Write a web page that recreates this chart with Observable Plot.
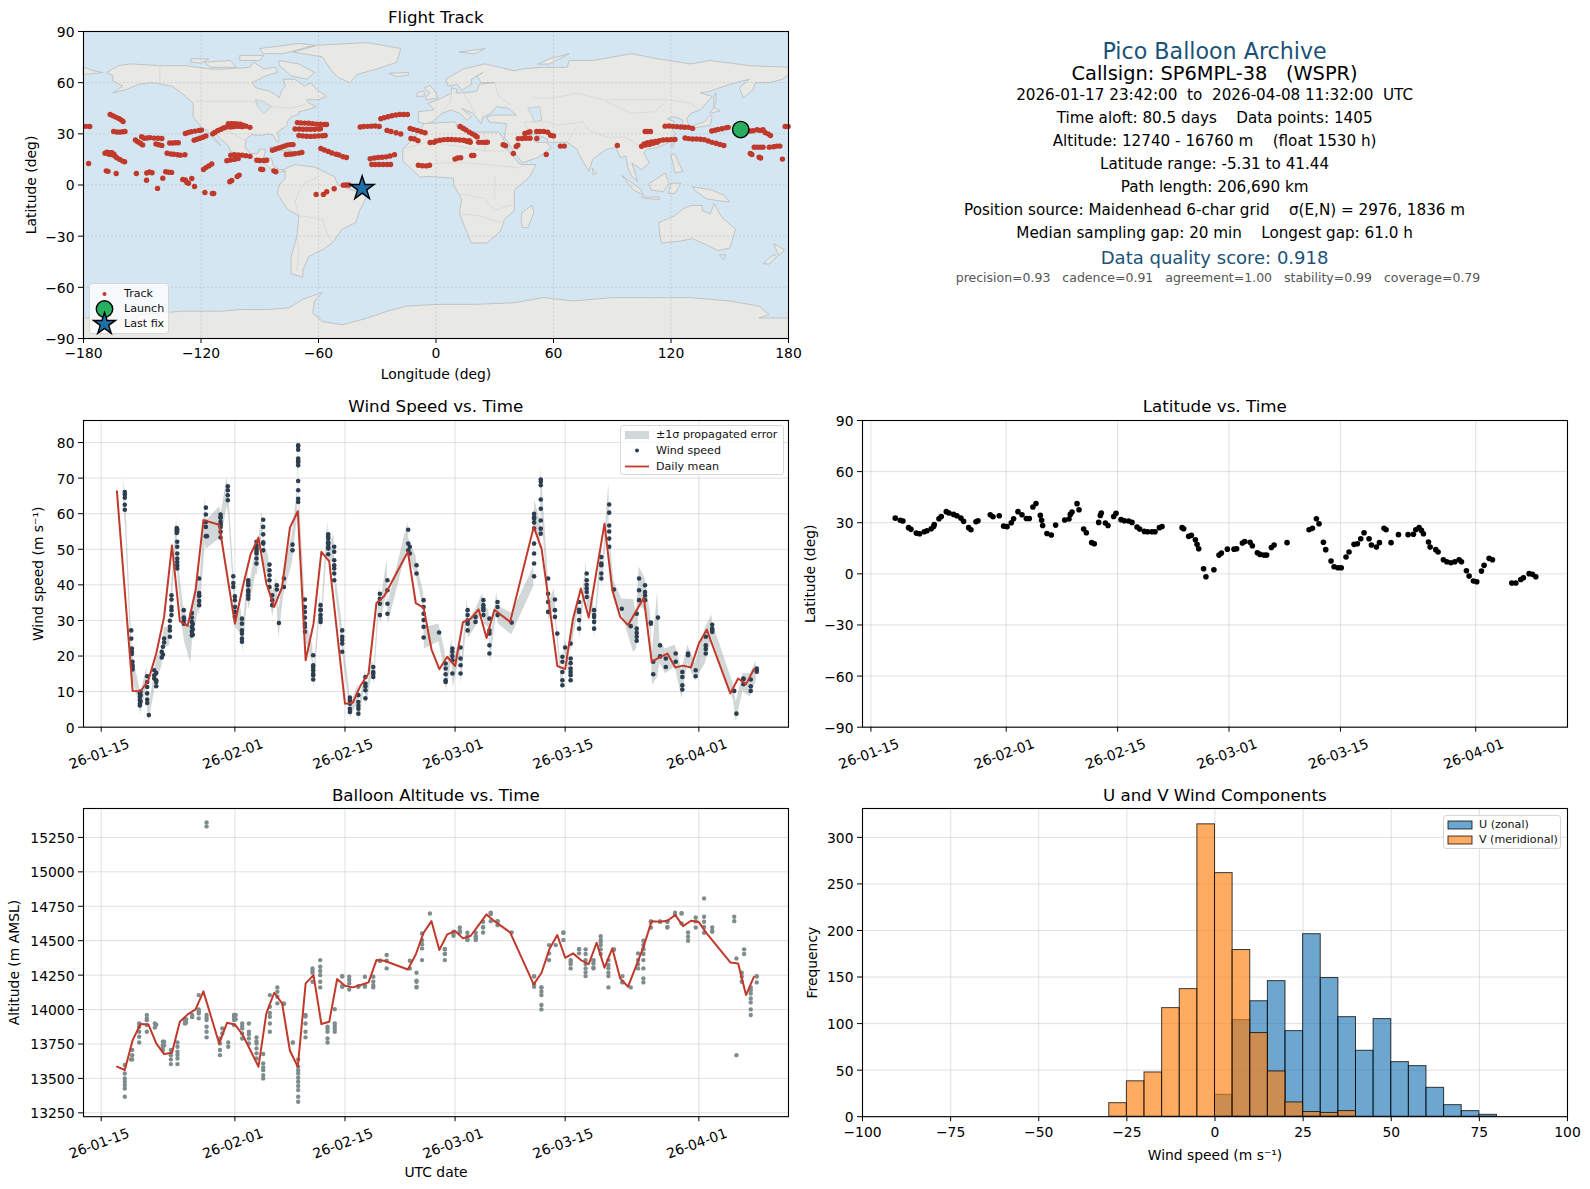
<!DOCTYPE html>
<html><head><meta charset="utf-8">
<script src="https://cdn.jsdelivr.net/npm/d3@7"></script>
<script src="https://cdn.jsdelivr.net/npm/@observablehq/plot@0.6"></script>
<style>
html,body{margin:0;padding:0;background:#fff;font-family:"DejaVu Sans",sans-serif;}
#page{position:relative;width:1590px;height:1189px;overflow:hidden;}
#page svg.plot,#page>svg{position:absolute;background:transparent;}
.t{position:absolute;white-space:pre;transform:translate(-50%,-50%);color:#000;line-height:1;}
.leg{position:absolute;background:rgba(255,255,255,.8);border:1px solid #d8d8d8;border-radius:3px;font-size:11.1px;box-sizing:border-box;color:#111;}
.leg div{position:absolute;white-space:pre;line-height:1;}
.leg svg{position:absolute;overflow:visible;}
</style></head><body><div id="page"></div>
<script>
// ---------- reference dates ----------
const tickDates=["2026-01-15","2026-02-01","2026-02-15","2026-03-01","2026-03-15","2026-04-01"];
const t0=Date.UTC(2026,0,15);
const day=d=>new Date(t0+d*864e5);

// ---------- flight track (lon, lat) ----------
const track=[[-166.4,41.3],[-165,40.6],[-163.5,39.8],[-162,39],[-160.8,38.2],[-159.8,37.2],[-178.8,34.4],[-176.8,34.3],[178.3,34.3],[179.8,34.3],
[-164.6,31.4],[-163,31.1],[-161.5,31],[-160,31.2],[-158.8,31.4],[-153.5,26.4],[-152.3,25.4],[-151,24.5],[-149.8,23.5],[-150.3,28.3],[-149,27.4],[-147.5,27.6],[-146,27.8],[-144,27.5],[-142,27.4],[-140,27.3],
[-143,24],[-141.5,23.6],[-140,23.2],[-136,24.6],[-134.5,24.6],[-133,24.8],[-131.6,24.8],[-128,30.2],[-126.5,30.8],[-125,31.2],[-123,31.6],[-121,32],[-119.8,32.2],[-123.5,26.3],[-122,26.8],[-120.5,27.4],[-119,28],[-117.5,28.8],
[-114,30],[-113,30.8],[-111.5,31.8],[-110,32.6],[-108.5,33.4],[-107,34],[-105.5,34.5],[-106,36],[-104.5,36],[-103,36],[-101.5,35.8],[-100,35.6],[-98.5,35],[-97,34.5],[-95,33.8],[-105,34],[-103.5,34.2],[-102,34.4],[-100.5,34.4],[-99,34.2],[-103,35],[-101,35],
[-137.3,18.6],[-135.5,18.2],[-134,18],[-132,17.7],[-130.5,17.5],[-128.2,17.7],[-169,18.6],[-168,19.2],[-166.5,19],[-165.5,17.8],[-164,17],[-167,18],[-165.5,19],[-163,16],[-161.5,15],[-160,14],[-159,13.6],[-164.5,18],[-177.4,12.6],
[-168.4,8.3],[-167.5,8],[-163.3,6.7],[-153,6.7],[-147.7,7],[-146.3,7.6],[-145,7.2],[-147.8,2.8],[-138,7.8],[-136.5,7.5],[-135,7.4],[-139.5,4],[-142.2,-2],[-129.3,3.2],[-128,3],[-127.2,1.5],[-126.4,1],[-124.7,3.8],[-123.3,-0.9],[-118,-4.4],[-114.2,-5],[-113.5,-5],
[-118.7,9.1],[-117.5,10.2],[-116,11.2],[-114.5,12.3],[-104.8,17.5],[-103,17.8],[-101,17.6],[-99,17.5],[-97,17.2],[-95,16.8],[-106.8,14.2],[-105,14.7],[-103,15],[-101,15.5],[-105.3,1.9],[-104.3,2.6],[-101.5,5],[-100.5,5.8],
[-91.5,14.5],[-90,14.4],[-88,14.4],[-86.5,14.5],[-89.5,9.2],[-88.5,9.1],[-82.8,8.3],[-81.8,7.8],[-83.5,20.4],[-82,21],[-80.5,21.6],[-79,22.2],[-77.5,22.8],[-76,23.4],[-74.5,23.7],[-73,23.7],[-76.5,17.9],[-75,18],[-73.5,18.2],[-72,18.4],[-70,18.7],[-68.5,19.1],
[-70.8,36.6],[-69,36.4],[-67,36.3],[-65,36.2],[-63,36],[-61,35.7],[-59,35.6],[-57,35.5],[-55.9,35.5],[-72,32.8],[-70,32.8],[-68,32.7],[-66,32.7],[-64,32.7],[-62,32.7],[-60,32.8],[-59,33],[-70,29],[-68,28.8],[-66,28.6],[-64,28.5],[-62,28.6],[-60,28.8],[-58,28.9],[-56.6,29],
[-58.8,21.4],[-57,20.5],[-55,19.7],[-53.2,18.8],[-51,18],[-49.5,17.6],[-47.5,16.6],[-45.7,16.1],[-61.2,-5.5],[-57.5,-5.5],[-55.8,-4],[-52,-2.2],[-47.3,-0.1],[-46,0],[-44.5,0],
[-38.7,34],[-37,34.3],[-35,34.4],[-33,34.5],[-31,34.6],[-29,34.3],[-28.2,38.8],[-26.5,39.5],[-24.5,40],[-22.5,40.6],[-20.5,41],[-18.5,41.3],[-16.5,41.3],[-14.6,41.3],[-25,32],[-23,31.4],[-20.4,30.6],[-18,29.9],
[-33.6,15.4],[-31.5,15.8],[-29.5,16.1],[-27.5,16.3],[-25.5,16.5],[-23.5,17],[-21.2,17.8],[-32.8,12],[-31,12],[-29,12],[-27,12],[-25,12],[-23.2,12],
[-13.2,33.1],[-11.5,32.6],[-9.5,32],[-7.5,31.2],[-5.6,30.6],[-12.8,27.3],[-11,27],[-9.2,26],[-9,11.6],[-7,11.3],[-5,11.2],[-3.3,11.6],
[12.3,34.3],[13.8,33.3],[15.3,32.3],[17,31],[18.5,30],[20,29],[21,28.2],[-3,24.9],[-1,25],[0,25.8],[2,26.2],[4,26.6],[6,26.7],[8,26.7],[10,26.6],[12,26.4],[14,26.2],[16,25.5],[17.5,25.1],[15,26],[17,26],
[21.8,25],[23.5,25],[25,25],[26.2,25.1],[34.3,23.6],[35.5,23],[41,22.6],[41.8,23.4],[39.5,18.5],[56.3,17.9],[9.7,15.2],[11,15.8],[12.6,16],[18.2,17.3],[19.3,17.3],
[42,27.2],[44,27.3],[46,27.4],[48,27.4],[51.5,27.3],[45.4,30.2],[47,30.8],[48,31.2],[51.4,31.4],[53,31.4],[55,31.4],[57,31],[58.5,29.2],[60,28.8],[63.5,22.8],[65.5,22.8],
[92.6,23.2],[106.8,31.4],[108,31.4],[109.5,31.4],[105,22.7],[106.3,24],[108,24.8],[110,25.2],[112,25.6],[114,26],[116,26.4],[118,26.5],[120,26.6],[122,26.7],[107,23.4],[109,23.8],[111,24.5],[113,25],
[117,34.5],[119,34.6],[121,34.4],[123,34.2],[125,34],[127,33.9],[129,33.8],[131,33.2],[127.2,27.6],[129,27.2],[131,27],[133,27],[135,26.8],[137,26.6],[139,25.8],[141,25],[143,24.5],[145,23.8],[147,23.2],
[140.8,31.7],[142.5,32.1],[144,32.5],[146,33],[148,33.5],[149.2,33.8],[160.5,31.7],[162,31.8],[164,32.4],[165.5,32],[167,32.4],[168,30.8],[169.5,30],[170.8,29],
[162.5,22.2],[164,22.2],[165.5,22.2],[167,22.2],[170.2,22.2],[172.4,22.4],[174,22.8],[175.6,22.8],[160.5,18.5],[161.3,17.9],[165,16.3],[165.8,15.8],[176.9,15.2]];
const launch=[[155.6,32.5]];
const lastFix=[[-37.7,-2]];

// ---------- land outlines (lon, lat) ----------
const land={
NAmerica:[[-168,66],[-162,70],[-156,71],[-141,70],[-128,70],[-115,68],[-108,68],[-95,69],[-93,72],[-88,68],[-82,69],[-81,66],[-87,64],[-94,60],[-92,57],[-85,55],[-82,53],[-80,51],[-79,55],[-77,58],[-78,62],[-72,62],[-67,58],[-64,60],[-61,56],[-56,52],[-60,50],[-66,50],[-65,48],[-61,46],[-66,44],[-70,43],[-70,41.5],[-74,40],[-76,37],[-76,35],[-81,31],[-80,26],[-81,25],[-83,29],[-85,30],[-90,29],[-94,29.5],[-97,27],[-97.5,22],[-95,18.5],[-91,18.5],[-90,21],[-87,21],[-88,16],[-84,15.5],[-83,11],[-80,9],[-78,9],[-77,8],[-80,7.5],[-85,10],[-88,13],[-94,16],[-100,17],[-105,20],[-106,23],[-110,27],[-113,31],[-115,31],[-112,26],[-110,23],[-113,26],[-117,32],[-120,34],[-124,40],[-124,48],[-130,54],[-135,58],[-145,60],[-152,59],[-158,56],[-165,54],[-160,58],[-165,61],[-165,64]],
SAmerica:[[-78,9],[-72,12],[-62,10.5],[-52,5],[-50,0],[-44,-2.5],[-35,-6],[-39,-15],[-41,-22],[-48,-26],[-53,-34],[-58,-38],[-65,-42],[-68,-50],[-68,-54],[-74,-52],[-74,-42],[-71,-30],[-70,-18],[-76,-14],[-81,-5],[-80,0],[-77,4],[-77,8]],
Africa:[[-6,36],[10,37],[11,33],[20,31],[32,31],[34,28],[37,20],[43,12],[51,12],[48,5],[40,-3],[40,-15],[35,-20],[33,-27],[26,-34],[18,-34],[12,-17],[13,-8],[9,0],[9,4],[-4,5],[-8,4.5],[-17,14],[-17,21],[-10,29]],
Eurasia:[[-9,37],[-9,43],[-1,44],[-4,48],[3,51],[8,54],[8,57],[11,56],[10,54],[14,54],[21,55],[22,59],[30,60],[23,60],[21,64],[24,66],[18,62],[18,59],[13,55.5],[11,59],[6,58],[5,62],[14,68],[25,71],[40,67],[44,68],[54,69],[67,69],[68,73],[80,73],[100,77],[113,74],[130,71],[140,73],[160,70],[180,69],[180,65],[177,62],[170,60],[163,60],[162,56],[157,51],[155,57],[160,62],[150,59],[140,55],[135,54],[141,52],[135,44],[130,42],[128,39],[129,35],[126,35],[126,38],[122,40],[118,39],[122,37],[120,34],[122,30],[119,25],[113,22],[108,21],[106,19],[109,13],[105,9],[100,13],[103,2],[100,5],[98,10],[97,17],[94,16],[92,22],[87,21],[80,15],[78,8],[73,18],[72,21],[67,25],[57,25],[57,27],[50,30],[48,29],[51,25],[56,25],[59,22],[52,16],[44,13],[39,21],[35,28],[36,36],[27,37],[26,40],[29,41],[41,41],[37,45],[31,46],[28,42],[24,40],[23,36],[19,42],[13,45],[18,40],[16,38],[12,42],[8,44],[3,42],[0,39],[-2,37],[-5,36]],
Antarctica:[[-180,-78],[-170,-78],[-155,-79],[-150,-76],[-130,-74],[-110,-74],[-100,-73],[-85,-73],[-75,-72],[-68,-67],[-58,-63],[-62,-68],[-63,-75],[-58,-80],[-48,-82],[-35,-78],[-25,-74],[-15,-71],[0,-70],[20,-70],[40,-69],[55,-66],[70,-68],[90,-66],[110,-66],[130,-66],[150,-68],[165,-71],[170,-76],[165,-78],[180,-78],[180,-90],[-180,-90]],
Greenland:[[-73,78],[-60,82],[-35,83.5],[-18,80],[-20,72],[-30,68],[-40,65],[-44,60],[-50,63],[-54,68],[-58,75]],
Baffin:[[-80,73],[-70,71],[-62,66],[-66,62],[-74,64],[-80,70]],
Victoria:[[-118,72],[-105,73],[-102,69],[-115,69]],
Ellesmere:[[-90,80],[-70,83],[-62,82],[-78,77],[-88,77]],
Banks:[[-125,74],[-116,74],[-120,71.5],[-125,72]],
Devon:[[-100,76],[-88,76],[-90,73],[-100,73]],
Iceland:[[-24,65.5],[-14,66],[-14,64.5],[-20,63.5]],
Britain:[[-5,50],[1,51],[0,54],[-3,58.5],[-6,57],[-3,54],[-5,52]],
Ireland:[[-10,52],[-6,52],[-6,55],[-9,54.5]],
Madagascar:[[44,-16],[49,-12],[50,-16],[47,-25],[44,-25],[43.5,-20]],
Australia:[[114,-22],[122,-18],[126,-14],[130,-12],[136,-12],[136,-15],[140,-17],[142,-11],[146,-19],[153,-26],[150,-37],[144,-38.5],[138,-35],[131,-31.5],[124,-33],[115,-34],[114,-26]],
Tasmania:[[145,-41],[148,-41],[147,-43.5]],
NZNorth:[[172.7,-34.5],[178,-38],[175,-41.5],[174,-39]],
NZSouth:[[173,-41],[174,-42],[170,-46.5],[167,-46],[171,-42]],
NewGuinea:[[131,-1],[141,-3],[147,-6],[150,-10],[143,-9],[138,-8],[133,-4]],
Borneo:[[109,1],[117,7],[119,1],[116,-4],[110,-3]],
Sumatra:[[95,5.5],[104,-2],[106,-6],[101,-3]],
Java:[[105,-7],[114,-7],[114,-8.5],[106,-7.8]],
Sulawesi:[[120,1],[125,1],[122,-5],[119,-5]],
Luzon:[[120,18],[122,18],[124,13],[126,8],[122,7],[121,13]],
Honshu:[[130,33],[135,34],[140,35],[141,40],[140,41],[137,37],[132,35]],
Hokkaido:[[140,42],[145,43.5],[142,45.5]],
Sakhalin:[[142,46],[143,49],[143,54],[142,52]],
Taiwan:[[120,23],[121.5,25],[121,22]],
SriLanka:[[80,9.5],[82,7],[80.5,6]],
Cuba:[[-85,22],[-80,23],[-74,20],[-78,20]],
Hispaniola:[[-74,19],[-69,19.5],[-68.5,18.5],[-74,18]],
Svalbard:[[12,78],[25,80],[20,77]],
NovayaZemlya:[[52,71],[58,74],[68,77],[58,71]],
Chukotka:[[-180,69],[-175,67],[-170,66],[-178,65],[-180,65]]
};
const seas={Caspian:[[47,45],[53,46],[54,38],[50,37],[49,41]],Hudsonia:[[-92,50],[-88,49],[-84,46],[-88,42],[-91,46]]};
const borders=[[[-123,49],[-95,49],[-83,46],[-75,45],[-67,47]],[[-141,70],[-141,60]],[[-117,32.5],[-106,31.5],[-97,26]],[[-70,-18],[-58,-20],[-55,-30],[-53,-34]],[[-70,-18],[-72,-10],[-70,-4],[-67,1],[-60,5]],[[-71,-30],[-70,-40],[-71,-50]],[[-17,21],[-5,25],[10,23],[25,20],[37,20]],[[12,-5],[25,-8],[30,-15],[40,-11]],[[-10,12],[5,13],[15,13],[25,12],[35,11],[43,10]],[[25,20],[25,31]],[[12,-17],[22,-18],[33,-22]],[[30,5],[30,-8]],[[8,54],[7,48],[3,43]],[[14,54],[17,48],[20,42]],[[30,60],[32,52],[38,47]],[[50,51],[60,51],[72,54],[85,50],[100,50],[118,50],[130,48],[135,44]],[[48,30],[45,37],[57,37],[62,35],[75,37],[78,32],[88,28],[97,28],[105,22]],[[67,25],[72,34]],[[87,49],[100,42],[112,43],[118,50]]];

// ---------- wind speed: [day after Jan 15, values] ----------
const windStacks=[[3,[66.1,65.4,64.5,62.5,61.1]],[3.82,[27.2,24.9]],[3.9,[22.1,21.2,20.6]],[3.98,[18.4,17.4,16.8,16.2]],[4.92,[9.5,8.5,7.6,6.6,6.1]],[5,[10,9,7.2]],[5.85,[14.3,12.7,11.3,9.5,7.8,6.8]],[6.06,[3.4]],[6.74,[16,14.6,13.7]],[7,[12.7,11.5,15.2,13.2]],[7.7,[19.6,21.2]],[7.85,[22.6,20.4]],[8,[23.8,24.9]],[8.73,[25.4,27.2,28.2,29.9]],[8.94,[31.5,32.9,33.8,35.9,37.1]],[9.6,[56,55.3,54.6]],[9.67,[52.1,50.7,48.8,47.4,46.4,45.5,44.6,55.6,54.9]],[10.5,[32.9,30.8,30.1,29.1]],[11.53,[32.1,30.8,29.6,28.2,26.8,25.8]],[11.65,[29,27.5,26]],[12.46,[41.8,37.7,36.9,35.5,34.3,37]],[13.31,[61.7,59.8,57.7,56.3,53.7]],[13.45,[53.7]],
[15.18,[59.8,58.9,57.7,56.3,54.9,53.3,59,57]],[16.1,[67.7,66.6,65.2,63.8]],[16.8,[42.4,40.5,39.4]],[17.0,[36.8,35.7,33.8,32.4,31]],[17.9,[30.5,29.1,27.2,26.3,24.9,24]],[18.7,[41.3,39.9,38.5,37.1,36.1,40.5,38]],[19.75,[52.1,50.2,48.8,47.4,46,51,49.5]],[20.6,[58.3,56.3,54.2,51.6,49.7,52]],[21.4,[45.7,44.1,42.7,41.3,39.4]],[21.75,[37.1,35.7,34.3]],[22.34,[39.9,38.7]],[22.6,[29.3]],[23.23,[41.8,39.4]],[24.33,[51.3,49.7]],[25.05,[79,78,75.5,74.5,73.6,69.2,66.6,64.2,63.3,79.2,74.9]],[25.9,[35.9,33.8,32.4,30.8,29.1,28.2,26.8]],[26.96,[20.2,17.4,16,14.6,13.4,16.8,15]],[27.9,[34.3,32.9,31.5,29.6,33,30.5]],[28.87,[54.2,53,51.6,50.2,48.6,53.5,52,50.7]],[29.63,[50.7,49.3,46.9,44.6,43.2,41.3,45.5]],[30.65,[27.2,25.4,23.5,21.2,24.5]],[31.62,[8.3,6.6,5.2,4.3,7.5]],[32.7,[9,7.1,5.2,3.8,6]],[33.6,[14.1,12.3,10.4,8.1,11.5]],[34.6,[16.9,15.5,14.1,15]],[35.44,[37.5,36.1,34.7,31.5]],[36.4,[41.3,38.5,34.7,31.9]],[39.04,[55.5,51.6,49.7]],[39.25,[50.7,48.8]],[40.1,[45.5,43.2]],[41,[35.7,33.8,31.9,30.1,28.2,25.2]],
[42.97,[26.6]],[43.8,[17.9,16.5,14.9,12.7,13.2]],[44.66,[22.1,21.2,18.8,15.1,20]],[45.7,[22.4,19.3,17.4,15.1]],[46.6,[32.9,31.5,29.1,27.2,30]],[47.6,[31,29.6]],[48.6,[35.7,34.3,32.9,31.5,33.5]],[49.37,[30.5,27.2,26.3,23,20.7]],[50.4,[35.2,33.8,31.5]],[52.2,[29.4]],[55.05,[60,58.6,55.8,51.6,48.8,46,42.4,59,57.5]],[55.9,[69.6,68,64,61.4,58.1,55.8,54.4,69]],[56.83,[41.8,37.5,35.2,32.4]],[57.7,[35.9,32.9,31]],[58,[26.3]],[58.65,[19.8,18.4,15.5,13.2,11.8]],[59,[22.4]],[59.7,[23.5,19.3,16.5,14.6,13.2,18,15.5]],[60.77,[35.2,32.4,30.1,27.7,33]],[61.74,[43.2,41.3,39,36.6,40,38]],[62.68,[32.9,31.5,29.6,27.7,31]],[63.6,[47.8,45.5,43.2,41.8,46]],[64.6,[62.6,60.3,56.7,53,50.7,55]],[65.2,[38.7]],[66.2,[33.3]],[67.34,[28.4]],[68.1,[31.9,27.7,25.4,24.3,26.5]],[68.4,[41.8,38.5,35.7]],[69.16,[39.9,38,35.7,37]],[69.9,[29.1,29.4]],[70.2,[18.4,14.9]],[70.8,[30.8]],[71.07,[23,19.9]],[71.8,[19.3,16.9]],[73.06,[20.7,18.4]],[73.9,[14.1,11.8,10.6,15.5]],[74.63,[20.2,20.7]],[75.6,[16,14.3]],[76.88,[25.4,23,20.7,22]],[77.7,[28.8,27.7,26.8,27.3]],[80.5,[10.2]],[80.78,[3.8]],[81.67,[13.7,12.1,13.5]],[82.6,[13.4,10.2,11.5]],[83.36,[16,16.5,15.6]]];

// ---------- propagated error band: [day, low, high] ----------
const windBand=[[2.9,62,70],[3.1,56,65],[3.75,23,31],[3.95,14,21],[4.8,7,12],[5,3.5,9],[5.8,11,17],[5.9,5,11],[6.05,1.8,5.5],[6.7,9,14],[7,13,19],[7.7,17,22],[8,22,28],[8.7,23,28],[8.95,33,40],[9.6,52,59],[9.75,42,48],[10.4,27,35],[10.6,24,33],[11.4,18,28],[11.6,24,34],[12.4,33,44],[12.5,31,39],[13.25,51.5,65],[13.35,50,58],[15.1,53,62],[15.25,52,60],[16,62,70],[16.2,60,67],[16.8,39,45],[17.1,28,35],[17.85,26,33],[18,21,27],[18.65,36,44],[18.8,33,39],[19.65,43,50],[19.85,43,49],[20.5,55,61],[20.7,46,52],[21.3,42,48],[21.5,36,42],[21.8,31,38],[22.3,36,42],[22.6,25,33],[23.2,37,44],[24.3,46,54],[24.95,59,67],[25.05,75,82.5],[25.15,60,67],[25.85,33,39],[26.05,24,30],[26.9,18,23],[27.05,11,16],[27.85,32,37],[28,27,32],[28.8,51,58],[28.95,46,51],[29.6,47,54],[29.75,39,44],[30.6,24,30],[30.8,19,24],[31.55,6,11],[31.7,2.5,6],[32.65,7,12],[32.8,1.5,5.5],[33.55,12,16],[33.7,6,10],[34.5,15,19],[34.7,12,16],[35.4,34,40],[35.5,29,34],[36.35,38,47],[36.5,29,35],[39,51,57.5],[39.1,47,53],[40.05,43,48],[40.2,41,45],[41,33,38],[41.1,22,28],
[42.95,24,29],[43.75,15,21],[43.9,10,15],[44.6,19,25],[44.75,11,18],[45.65,20,25],[45.8,12,18],[46.55,30,36],[46.7,25,30],[47.6,28,33],[48.5,33,37.5],[48.7,29,34],[49.3,28,33],[49.5,18,23],[50.3,33,38],[50.5,29,34],[52.2,26,32],[55,39.5,45],[55.1,56,64],[55.85,50,58],[55.95,62,73],[56.8,37,44],[56.9,30,35],[57.65,33,39],[57.8,29,33],[58,24,28],[58.6,10.4,14],[59,21,25],[59.65,12,16],[59.7,21,26],[60.7,33,37],[60.85,25,30],[61.7,41,46.4],[61.8,34,39],[62.6,31,35],[62.75,25,30],[63.55,45,50],[63.7,39,44],[64.55,60,68.3],[64.7,47,53],[65.2,36,41],[66.2,32,36],[67.7,21,35.9],[68.1,22,32],[68.4,34,45],[69.15,33,42],[69.85,27,32],[70.1,11.8,21],[70.75,14,38],[71.05,18,24],[71.75,15,22],[73,17,23],[73.85,8,16],[74.6,18,23],[75.55,13,18],[76.85,18,28],[77.65,25,31.5],[77.8,24,29],[80.4,7.5,12],[80.75,1.5,7],[81.6,10,15],[82.55,8.5,15],[83.3,13,18.6]];

// ---------- daily means ----------
const meanDays=[2,4,5,6,7,8,9,10,11,12,13,15,17,18,19,20,21,22,23,24,25,26,27,28,29,31,32,33,34,35,36,39,40,41,42,43,44,45,46,47,48,49,50,52,55,56,57,58,59,60,61,62,64,65,66,67,69,70,71,72,73,74,75,76,77,80,81,82,83];
const meanWind=[66.3,10.2,10.1,13.2,20.7,31,51.1,29.8,28.5,38.5,58.2,56.9,29.1,39.4,48.6,53.3,40.4,33.8,39.4,56.1,60.7,18.8,29.1,49.3,46.6,6.6,6.9,11.8,15.1,34.9,36.9,49.3,34.9,33.6,21.9,16.3,19.8,17.2,29.5,30.5,33.1,25.1,33,29.6,56.3,50.2,34,17.2,16.3,30.5,39,30.8,57.2,38.5,31,28.7,36.4,18.4,19.6,20.7,16.8,17.3,16.8,23.5,27.4,9.5,13.7,12.1,16.3];
const altDays=[2,3,4,5,6,7,8,9,10,11,12,13,15,16,17,18,19,20,21,22,23,24,25,26,27,28,29,30,31,32,33,34,35,36,39,40,41,42,43,44,45,46,47,48,49,50,52,55,56,57,58,59,60,61,62,63,64,65,66,67,69,70,71,72,73,74,75,76,77,80,81,82,83];
const meanAlt=[13585,13561,13778,13895,13892,13754,13677,13686,13911,13965,14001,14132,13754,13904,13892,13815,13701,13585,13972,14122,14045,13701,13585,14190,14250,13895,13911,14221,14173,14161,14178,14197,14359,14354,14291,14400,14558,14642,14432,14546,14570,14517,14536,14613,14691,14642,14560,14183,14267,14439,14541,14376,14408,14359,14330,14485,14304,14444,14226,14166,14461,14642,14638,14645,14686,14606,14645,14635,14553,14342,14335,14105,14238];

// ---------- altitude: [day, values] ----------
const altStacks=[[3,[13597,13536,13476,13452,13427,13367,13500]],[3.8,[13638]],[3.94,[13638,13669,13706]],[4.83,[13761,13803,13839,13875,13899]],[5.8,[13960,13923,13887,13839,13935]],[6.82,[13870,13899]],[7,[13890]],[7.84,[13766,13742,13706,13730]],[8.0,[13766,13740]],[8.86,[13706,13669,13638,13604]],[9.7,[13761,13730,13694,13645,13604,13670]],[10.64,[13924,13899]],[10.8,[13930,13905]],[11.57,[13960,13945]],[12.4,[14105,14001,13972,13936,13985]],[13.4,[15359,15330,13960,13924,13875,13839,13798,13940]],[15.1,[13790,13754,13706,13669]],[15.4,[13863,13827]],[16.15,[13761,13730]],[16.9,[13960,13924,13887,13960,13945]],[17.1,[13960,13930]],[17.93,[13899,13863,13827,13790,13880]],[18.78,[13899,13839,13790,13754,13820]],[19.75,[13798,13754,13718,13682,13645,13770]],[20.6,[13677,13609,13560,13524,13500,13580]],[21.45,[14105,14020,13948,13899,13839,13975]],[22.4,[14161,14129,14093,14045]],[23.23,[14040,14045]],[24.37,[13761,13760]],[25.05,[13638,13585,13536,13476,13415,13367,13330,13560,13505,13445]],[25.98,[13960,13899,13839,13798,13950]],[26.87,[14299,14267,14202,14280]],[27.85,[14359,14311,14250,14202,14161,14280]],[28.78,[13875,13839,13790,13761,13860]],[29.7,[14003,13899,13839,13880,13860]],[30.65,[14243,14166,14240,14170]],[31.54,[14238,14190,14146,14215]],[32.7,[14166,14170]],[33.53,[14238,14166,14175]],[34.6,[14238,14202,14161,14175]],[35.44,[14354,14355]],[36.3,[14396,14354,14299]],[39.25,[14354,14299]],[40.1,[14267,14202,14161,14210,14165]],[40.8,[14553,14504,14444,14359,14475]],[41.8,[14698]],
[43.7,[14437,14403,14359,14440,14405]],[44.8,[14565,14536,14550]],[45.6,[14596,14560,14570]],[46.57,[14558,14505,14530,14510]],[47.63,[14558,14529,14505,14515,14530]],[48.56,[14638,14596,14560,14600]],[49.54,[14703,14693,14642,14700]],[50.4,[14642,14613,14640]],[52.2,[14560]],[55.05,[14243,14166,14240,14180]],[55.98,[14161,14105,14033,14001,14130,14160]],[56.95,[14468,14408,14359]],[57.8,[14468]],[58.78,[14560,14505,14558]],[59.7,[14359,14330,14299,14345]],[60.77,[14437,14408,14440]],[61.6,[14437,14403,14359,14299,14243,14330,14270]],[62.6,[14359,14335,14299,14305,14355]],[63.52,[14533,14505,14468,14437,14403,14490]],[64.5,[14359,14323,14267,14243,14161,14300]],[65.2,[14437,14435]],[66.28,[14243,14197,14200]],[67.34,[14161]],[68.27,[14408,14359,14299,14330]],[68.95,[14500,14468,14437,14403,14359,14299,14226,14197,14440]],[69.9,[14638,14596,14640]],[71.07,[14638,14640]],[72,[14638,14596,14640,14600]],[72.97,[14703,14690]],[73.8,[14698,14626,14700]],[74.63,[14560,14529,14500]],[75.6,[14669,14596,14640]],[76.66,[14807,14674,14638,14558,14600]],[77.7,[14596,14565,14570]],[80.5,[14674,14642]],[80.78,[14371,13669]],[81.46,[14267,14202,14240]],[81.76,[14437,14403]],[82.6,[14161,14117,14081,14052,14001,13960,14140]],[83.36,[14243,14197,14240]]];

// ---------- latitude vs time: [day, latitude] ----------
const latPoints=[[3.06,32.7],[3.69,31.4],[4.02,31],[4.73,27.1],[5.03,26.1],[5.7,23.9],[6.12,23.5],[6.7,24.7],[7.04,25.3],[7.58,26.5],[7.88,27.8],[7.96,29],[8.55,32.3],[8.84,33.7],[9.47,36.5],[9.81,35.7],[10.39,34.9],[10.81,34.1],[11.31,32.7],[11.65,30.8],[12.28,27.1],[12.57,25.9],[13.2,30.6],[13.45,31.2],[15,34.7],[15.34,33.5],[16.13,34.1],[16.68,28],[17.1,27.7],[17.64,30],[17.93,32.3],[18.48,36.5],[18.98,34.7],[19.53,32.5],[19.9,32.5],[20.36,39.2],[20.74,41.3],[21.29,34.3],[21.45,31.4],[21.58,28.4],[22.12,23.7],[22.67,22.8],[23.21,28.6],[24.35,31.6],[24.89,32.2],[25.06,34.9],[25.27,36.3],[25.9,41.2],[26.15,37.6],[26.73,26.3],[27.07,24.1],[27.74,18.3],[28.07,17.7],[28.62,30.2],[28.83,34.3],[28.95,35.7],[29.46,29.8],[29.79,28.4],[30.5,33.7],[30.8,35.5],[31.43,31.8],[31.85,31.2],[32.39,31],[32.81,30.2],[33.44,27.5],[33.77,26.3],[34.36,24.9],[34.78,24.7],[35.32,24.7],[35.7,24.7],[36.25,27.1],[36.58,27.8],[39.1,27.1],[39.3,26.5],[39.93,22],[40.27,22.6],[40.77,20],[40.98,17.3],[41.19,14.7],[41.8,3],[42.1,-1.7],[43.1,2.4],
[43.74,11],[44.04,12.2],[44.79,14.5],[45.63,14.5],[45.96,14.7],[46.68,18.1],[46.97,19],[47.64,18.5],[47.93,16.5],[48.56,12.4],[48.9,11.4],[49.4,11],[49.73,11],[50.32,15.5],[50.66,16.9],[52.29,18.3],[55.06,25.9],[55.48,26.7],[55.98,32.3],[56.31,29.4],[56.86,18.5],[57.15,14.2],[57.82,7.5],[58.2,4.2],[58.7,3.6],[59.1,3.6],[59.7,9.9],[60.08,12.8],[60.71,17.3],[61.13,17.7],[61.55,20.6],[61.97,24.1],[62.6,20.6],[62.89,16.9],[63.52,15.7],[63.9,18.3],[64.48,26.7],[64.73,25.9],[65.36,18.3],[66.29,23],[67.5,23],[68.17,23.2],[68.47,25.9],[68.88,27.1],[69.18,25.5],[69.43,23.5],[70.06,18.7],[70.27,15.7],[70.98,14.2],[71.27,12.8],[71.94,8.3],[72.36,7.1],[72.87,6.5],[73.37,7.1],[73.91,8.3],[74.21,7.1],[74.83,1.8],[75.17,-1.3],[75.71,-4.2],[76.13,-4.6],[76.72,1.6],[77.05,5],[77.68,9.1],[78.1,8.3],[80.53,-5.4],[81.04,-5.4],[81.66,-3.3],[82,-2.3],[82.71,0.1],[83.13,-0.3],[83.55,-1.7]];

// ---------- histograms: bin start (width 5) and counts ----------
const binWidth=5;
const uStarts=[0,5,10,15,20,25,30,35,40,45,50,55,60,65,70,75];
const uCounts=[23.5,103.7,124,145.6,91.9,196,148.9,106.9,70.8,104.8,58.6,54.3,31,12.4,6,2];
const vStarts=[-30,-25,-20,-15,-10,-5,0,5,10,15,20,25,30,35];
const vCounts=[14.5,38,47.5,116.6,137,314,261.6,179,89.8,48.6,15.3,5,4,6];

// ---------- info panel text ----------
const infoLines=[
["Pico Balloon Archive",50.7,22.2,"#1a5276",1214.6],
["Callsign: SP6MPL-38   (WSPR)",74,19.4,"#000",1214.6],
["2026-01-17 23:42:00  to  2026-04-08 11:32:00  UTC",95.5,15.2,"#000",1214.6],
["Time aloft: 80.5 days    Data points: 1405",118.7,15.2,"#000",1214.6],
["Altitude: 12740 - 16760 m    (float 1530 h)",141.5,15.2,"#000",1214.6],
["Latitude range: -5.31 to 41.44",164.5,15.2,"#000",1214.6],
["Path length: 206,690 km",187.7,15.2,"#000",1214.6],
["Position source: Maidenhead 6-char grid    σ(E,N) = 2976, 1836 m",211,15.2,"#000",1214.6],
["Median sampling gap: 20 min    Longest gap: 61.0 h",233.5,15.2,"#000",1214.6],
["Data quality score: 0.918",257.5,18,"#1a5276",1214.6],
["precision=0.93   cadence=0.91   agreement=1.00   stability=0.99   coverage=0.79",278,12.5,"#555",1218]];

// ---------- layout helpers ----------
const page=document.getElementById("page");
const FF='"DejaVu Sans"';
const TICK=13.9;
const tickMinus=d=>String(d).replace("-","−");
const GRID={stroke:"#808080",strokeOpacity:0.25,strokeWidth:1};
const L={x:[83.3,862.3],w:705,rows:[[31.3,307],[420.3,306.7],[808.3,308.2]]};
function panel(col,row,opts){
  const left=L.x[col],[top,h]=L.rows[row];
  const ml=90,mr=14,mt=6,mb=64;
  const svg=Plot.plot({width:L.w+ml+mr,height:h+mt+mb,marginLeft:ml,marginRight:mr,marginTop:mt,marginBottom:mb,
    style:{fontFamily:FF,background:"transparent",overflow:"visible"},...opts});
  svg.style.left=(left-ml)+"px";svg.style.top=(top-mt)+"px";svg.style.position="absolute";
  page.appendChild(svg);
}
function text(s,x,y,size,color,extra=""){
  const d=document.createElement("div");d.className="t";d.textContent=s;
  d.style.cssText=`left:${x}px;top:${y}px;font-size:${size}px;color:${color};${extra}`;
  page.appendChild(d);
}
function title(col,row,s){text(s,L.x[col]+L.w/2,L.rows[row][0]-(row===2?13.5:14.5),16.7,"#000");}
function legend(left,top,w,h,rows){
  const b=document.createElement("div");b.className="leg";
  b.style.cssText=`left:${left}px;top:${top}px;width:${w}px;height:${h}px;`;
  for(const r of rows){
    b.insertAdjacentHTML("beforeend",`<svg style="left:0;top:0" width="${w}" height="${h}">${r.svg}</svg><div style="left:${r.tx}px;top:${r.y-6}px">${r.label}</div>`);
  }
  page.appendChild(b);
}
const tickD=tickDates.map(s=>new Date(s+"T00:00:00Z"));
const fmtD=d3.utcFormat("%y-%m-%d");
const xDateAxis=(label)=>[
  Plot.axisX(tickD,{tickSize:5,tickFormat:()=>"",label:null}),
  Plot.axisX(tickD,{tickFormat:fmtD,tickRotate:-20,textAnchor:"middle",lineAnchor:"middle",tickSize:0,tickPadding:27,dx:-2,fontSize:TICK,label:label||null,labelAnchor:"center",labelArrow:"none",labelOffset:60,color:"#000"})];
const yAxis=(ticks,label,fmt,off)=>[
  Plot.axisY(ticks,{tickSize:5,tickFormat:()=>"",label:null}),
  Plot.axisY(ticks,{tickSize:0,tickPadding:9,dy:1,fontSize:TICK,tickFormat:fmt,label,labelAnchor:"center",labelArrow:"none",labelOffset:off})];
const xNumAxis=(ticks,label,off)=>Plot.axisX(ticks,{tickSize:5,tickPadding:5,fontSize:TICK,tickFormat:tickMinus,label,labelAnchor:"center",labelArrow:"none",labelOffset:off});
const flat=st=>st.flatMap(([d,vals])=>vals.map(v=>({t:day(d),v})));

// ---------- Flight track ----------
const landRows=Object.entries(land).flatMap(([name,pts])=>pts.map(([x,y])=>({name,x,y})));
const seaRows=Object.entries(seas).flatMap(([name,pts])=>pts.map(([x,y])=>({name,x,y})));
const borderRows=borders.flatMap((pts,i)=>pts.map(([x,y])=>({i,x,y})));
const lonTicks=d3.range(-180,181,60),latTicks=d3.range(-90,91,30);
panel(0,0,{
  x:{domain:[-180,180],label:null},y:{domain:[-90,90],label:null},
  marks:[
    Plot.frame({fill:"#d4e6f1",stroke:null}),
    Plot.line(landRows,{x:"x",y:"y",z:"name",fill:"#e8e8e4",stroke:"#bcc0c2",strokeWidth:0.9,curve:"linear-closed"}),
    Plot.line(seaRows,{x:"x",y:"y",z:"name",fill:"#d4e6f1",stroke:"#bcc0c2",strokeWidth:0.7,curve:"linear-closed"}),
    Plot.line(borderRows,{x:"x",y:"y",z:"i",stroke:"#d4d6d4",strokeWidth:0.7}),
    Plot.gridX(lonTicks,{stroke:"#888",strokeOpacity:0.3,strokeDasharray:"2,2",strokeWidth:0.8}),
    Plot.gridY(latTicks,{stroke:"#888",strokeOpacity:0.3,strokeDasharray:"2,2",strokeWidth:0.8}),
    Plot.dot(track,{x:d=>d[0],y:d=>d[1],r:2.7,fill:"#c0392b"}),
    Plot.dot(launch,{x:d=>d[0],y:d=>d[1],r:8.2,fill:"#27ae60",stroke:"#000",strokeWidth:1.4}),
    Plot.dot(lastFix,{x:d=>d[0],y:d=>d[1],r:7.5,symbol:"star",fill:"#1f6fa8",stroke:"#000",strokeWidth:1.4}),
    Plot.frame({stroke:"#000",strokeWidth:1.1}),
    xNumAxis(lonTicks,"Longitude (deg)",40),
    yAxis(latTicks,"Latitude (deg)",tickMinus,57)
  ]});
title(0,0,"Flight Track");
legend(89,283,80,50.5,[
 {y:9.5,tx:34,label:"Track",svg:`<circle cx="14.5" cy="10" r="2" fill="#c0392b"/>`},
 {y:25,tx:34,label:"Launch",svg:`<circle cx="14.5" cy="25" r="8.2" fill="#27ae60" stroke="#000" stroke-width="1.4"/>`},
 {y:40,tx:34,label:"Last fix",svg:`<path transform="translate(14.5,40)" d="${d3.symbol(d3.symbolStar,150)()}" fill="#1f6fa8" stroke="#000" stroke-width="1.4"/>`}
]);

// ---------- Info panel ----------
for(const [s,y,size,c,x] of infoLines) text(s,x,y,size,c);

// ---------- Wind speed ----------
const xWind={type:"utc",domain:[day(-2.25),day(87.4)],label:null};
panel(0,1,{
  x:xWind,y:{domain:[0,86.2],label:null},
  marks:[
    Plot.gridX(tickD,GRID),
    Plot.gridY(d3.range(0,81,10),GRID),
    Plot.areaY(windBand,{x:d=>day(d[0]),y1:d=>d[1],y2:d=>d[2],fill:"#7f8c8d",fillOpacity:0.35}),
    Plot.dot(flat(windStacks),{x:"t",y:"v",r:2.3,fill:"#2c3e50"}),
    Plot.line(meanDays.map((d,i)=>({t:day(d),v:meanWind[i]})),{x:"t",y:"v",stroke:"#c0392b",strokeWidth:2}),
    Plot.frame({stroke:"#000",strokeWidth:1.1}),
    xDateAxis(),
    yAxis(d3.range(0,81,10),"Wind speed (m s⁻¹)",d=>String(d),50)
  ]});
title(0,1,"Wind Speed vs. Time");
legend(620,425,164,50,[
 {y:9,tx:35,label:"±1σ propagated error",svg:`<rect x="4" y="5" width="24" height="8" fill="#7f8c8d" fill-opacity=".35"/>`},
 {y:24.5,tx:35,label:"Wind speed",svg:`<circle cx="16" cy="24.5" r="2" fill="#2c3e50"/>`},
 {y:40.5,tx:35,label:"Daily mean",svg:`<line x1="4" x2="28" y1="40.5" y2="40.5" stroke="#c0392b" stroke-width="1.8"/>`}
]);

// ---------- Latitude ----------
panel(1,1,{
  x:{type:"utc",domain:[day(-1.056),day(87.53)],label:null},y:{domain:[-90,90],label:null},
  marks:[
    Plot.gridX(tickD,GRID),
    Plot.gridY(latTicks,GRID),
    Plot.dot(latPoints,{x:d=>day(d[0]),y:d=>d[1],r:2.8,fill:"#000"}),
    Plot.frame({stroke:"#000",strokeWidth:1.1}),
    xDateAxis(),
    yAxis(latTicks,"Latitude (deg)",tickMinus,57)
  ]});
title(1,1,"Latitude vs. Time");

// ---------- Altitude ----------
const altTicks=d3.range(13250,15251,250);
panel(0,2,{
  x:xWind,y:{domain:[13222,15460],label:null},
  marks:[
    Plot.gridX(tickD,GRID),
    Plot.gridY(altTicks,GRID),
    Plot.dot(flat(altStacks),{x:"t",y:"v",r:2.2,fill:"#7f8c8d"}),
    Plot.line(altDays.map((d,i)=>({t:day(d),v:meanAlt[i]})),{x:"t",y:"v",stroke:"#c0392b",strokeWidth:2}),
    Plot.frame({stroke:"#000",strokeWidth:1.1}),
    xDateAxis("UTC date"),
    yAxis(altTicks,"Altitude (m AMSL)",d=>String(d),74)
  ]});
title(0,2,"Balloon Altitude vs. Time");

// ---------- Histogram ----------
const hx=d3.range(-100,101,25),hy=d3.range(0,301,50);
const bars=(st,ct)=>st.map((s,i)=>({a:s,b:s+binWidth,n:ct[i]}));
panel(1,2,{
  x:{domain:[-100,100],label:null},y:{domain:[0,331],label:null},
  marks:[
    Plot.gridX(hx,GRID),
    Plot.gridY(hy,GRID),
    Plot.rect(bars(uStarts,uCounts),{x1:"a",x2:"b",y1:()=>0,y2:"n",fill:"#1f77b4",fillOpacity:0.65,stroke:"#000",strokeOpacity:0.75,strokeWidth:1}),
    Plot.rect(bars(vStarts,vCounts),{x1:"a",x2:"b",y1:()=>0,y2:"n",fill:"#ff7f0e",fillOpacity:0.65,stroke:"#000",strokeOpacity:0.75,strokeWidth:1}),
    Plot.frame({stroke:"#000",strokeWidth:1.1}),
    xNumAxis(hx,"Wind speed (m s⁻¹)",43),
    yAxis(hy,"Frequency",d=>String(d),55)
  ]});
title(1,2,"U and V Wind Components");
legend(1443,815,118,34,[
 {y:9,tx:35,label:"U (zonal)",svg:`<rect x="4" y="5" width="24" height="8" fill="#1f77b4" fill-opacity=".65" stroke="#000" stroke-opacity=".75"/>`},
 {y:24,tx:35,label:"V (meridional)",svg:`<rect x="4" y="20" width="24" height="8" fill="#ff7f0e" fill-opacity=".65" stroke="#000" stroke-opacity=".75"/>`}
]);
</script></body></html>
